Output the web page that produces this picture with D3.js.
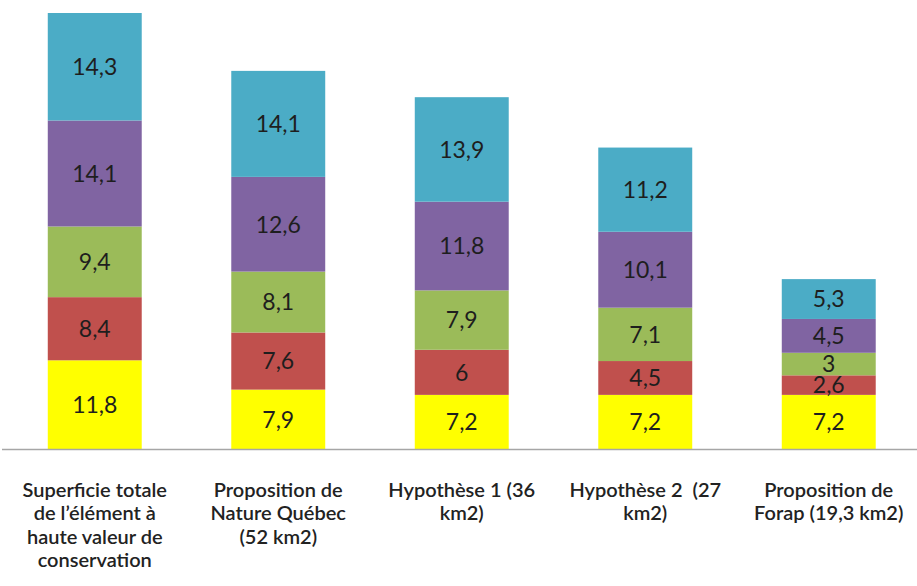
<!DOCTYPE html>
<html><head><meta charset="utf-8">
<script src="https://cdn.jsdelivr.net/npm/d3@7"></script>
<style>body{margin:0;background:#fff}svg{display:block}</style>
</head><body>
<script>
const categories = [
  ["Superficie totale", "de l’élément à", "haute valeur de", "conservation"],
  ["Proposition de", "Nature Québec", "(52 km2)"],
  ["Hypothèse 1 (36", "km2)"],
  ["Hypothèse 2  (27", "km2)"],
  ["Proposition de", "Forap (19,3 km2)"]
];
const seriesNames = ["s1", "s2", "s3", "s4", "s5"];
const yellowVals = [11.8, 7.9, 7.2, 7.2, 7.2];
const redVals = [8.4, 7.6, 6, 4.5, 2.6];
const greenVals = [9.4, 8.1, 7.9, 7.1, 3];
const purpleVals = [14.1, 12.6, 11.8, 10.1, 4.5];
const tealVals = [14.3, 14.1, 13.9, 11.2, 5.3];
const colors = ["#ffff00", "#c0504d", "#9bbb59", "#8064a2", "#4bacc6"];

const W = 917, H = 586;
const svg = d3.select("body").append("svg").attr("width", W).attr("height", H);

const seriesVals = [yellowVals, redVals, greenVals, purpleVals, tealVals];
const table = categories.map((c, i) => {
  const o = {idx: i};
  seriesNames.forEach((s, j) => o[s] = seriesVals[j][i]);
  return o;
});
const stack = d3.stack().keys(seriesNames)(table);

const x = d3.scaleBand().domain(d3.range(categories.length)).range([3, 920.5]).paddingInner(0.488).paddingOuter(0.244);
const y = d3.scaleLinear().domain([0, 58]).range([449, 13]);

const g = svg.append("g");
stack.forEach((layer, j) => {
  g.selectAll(null).data(layer).enter().append("rect")
    .attr("x", d => x(d.data.idx))
    .attr("y", d => y(d[1]))
    .attr("width", x.bandwidth())
    .attr("height", d => y(d[0]) - y(d[1]))
    .attr("fill", colors[j]);
  g.selectAll(null).data(layer).enter().append("text")
    .attr("x", d => x(d.data.idx) + x.bandwidth() / 2)
    .attr("y", d => (y(d[0]) + y(d[1])) / 2)
    .attr("dy", "0.36em")
    .attr("text-anchor", "middle")
    .attr("font-family", "Lato, 'Open Sans', sans-serif")
    .attr("font-size", 23)
    .attr("fill", "#1e1e1e")
    .text(d => String(seriesVals[j][d.data.idx]).replace(".", ","));
});

// axis baseline
svg.append("line").attr("x1", 2).attr("x2", 917).attr("y1", 449.5).attr("y2", 449.5)
  .attr("stroke", "#a6a6a6").attr("stroke-width", 1.5);

const lab = svg.append("g");
categories.forEach((lines, i) => {
  const cx = x(i) + x.bandwidth() / 2;
  const t = lab.append("text")
    .attr("x", cx)
    .attr("y", 497)
    .attr("text-anchor", "middle")
    .attr("font-family", "Lato, 'Open Sans', sans-serif")
    .attr("font-size", 20)
    .attr("font-weight", 600)
    .attr("fill", "#222");
  lines.forEach((l, k) => {
    t.append("tspan").attr("x", cx).attr("y", 497 + k * 23.3)
      .attr("xml:space", "preserve").text(l);
  });
});
</script>
</body></html>
